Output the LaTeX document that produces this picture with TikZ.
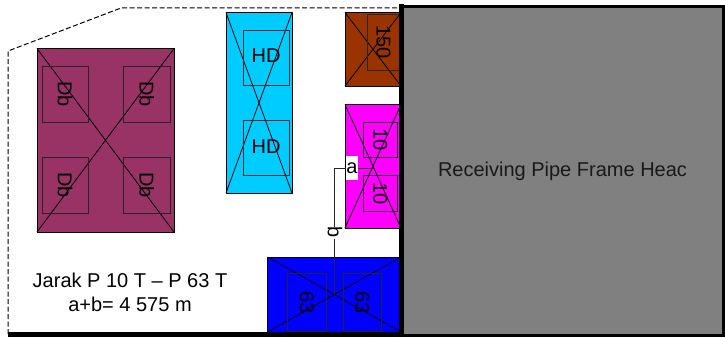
\documentclass[tikz,border=0pt]{standalone}
\usepackage{fontspec}
\setmainfont{Liberation Sans}
\tikzset{
  unit/.style={draw=black,line width=0.9pt,inner sep=0pt,outer sep=0pt},
  inner/.style={draw=black!85,line width=0.8pt,fill=none,inner sep=0pt,outer sep=0pt},
  cross/.style={draw=black,line width=0.8pt},
  rotlab/.style={rotate=-90,font=\fontsize{20}{20}\selectfont,inner sep=0pt},
  hlab/.style={font=\fontsize{20}{20}\selectfont,inner sep=0pt},
  boundary/.style={draw=black,line width=1pt,dash pattern=on 5pt off 2.5pt},
  wall/.style={draw=black,line width=4.5pt},
  dim/.style={draw=black!85,line width=1pt},
}
\newcommand{\boxat}[6]{% name x1 y1 x2 y2 colour
  \fill[#6] (#2,#3) rectangle (#4,#5);
  \draw[unit] (#2,#3) rectangle (#4,#5);
  \coordinate (#1) at ({(#2+#4)/2},{(#3+#5)/2});
  \draw[cross] (#2,#3) -- (#4,#5) (#2,#5) -- (#4,#3);
}
\newcommand{\padat}[6]{% name x1 y1 x2 y2 label style+text
  \draw[inner] (#2,#3) rectangle (#4,#5);
  \node[rotlab] (#1) at ({(#2+#4)/2},{(#3+#5)/2}) {#6};
}
\definecolor{plum}{RGB}{153,51,102}
\definecolor{skyc}{RGB}{0,204,255}
\definecolor{brownc}{RGB}{153,51,0}
\definecolor{magc}{RGB}{255,0,255}
\definecolor{bluec}{RGB}{0,0,255}
\begin{document}
\begin{tikzpicture}[x=1pt,y=-1pt]
\useasboundingbox (0,0) rectangle (725,337);
\fill[white] (0,0) rectangle (725,337);
% site boundary
\coordinate (b1) at (8,334);
\coordinate (b2) at (8,51);
\coordinate (b3) at (121,8);
\coordinate (b4) at (400,8);
\draw[boundary] (b1) -- (b2) -- (b3) -- (b4);
% plum
\boxat{P}{37}{48.5}{174}{232}{plum}
\padat{d1}{42}{66}{88}{122}{Db}
\padat{d2}{123.5}{66}{170}{122}{Db}
\padat{d3}{42}{157}{88}{213}{Db}
\padat{d4}{123.5}{157}{170}{213}{Db}
% cyan
\boxat{C}{226}{12.5}{292}{193}{skyc}
\draw[inner] (243.5,30) rectangle (289,85);
\node[hlab] (h1) at (266,55.5) {HD};
\draw[inner] (243.5,120.5) rectangle (289,175);
\node[hlab] (h2) at (266,146.5) {HD};
% brown
\boxat{B}{345}{12.5}{401}{86}{brownc}
\padat{n150}{367}{14}{400}{70.5}{150}
% magenta
\boxat{M}{345}{104.5}{401}{228}{magc}
\padat{n10a}{363.5}{122}{397}{157}{10}
\padat{n10b}{363.5}{175.5}{397}{211}{10}
% blue
\boxat{L}{267.5}{257}{401}{332}{bluec}
\padat{n63a}{287.5}{273.5}{326}{331}{63}
\padat{n63b}{343}{273.5}{381.5}{331}{63}
% dimension line
\coordinate (corner) at (334.25,168);
\draw[dim] (M |- corner) -- (corner) -- (L);
\node[fill=white,inner sep=0pt,minimum width=12pt,minimum height=24pt,font=\fontsize{20}{20}\selectfont] (a) at (352,168) {a};
\node[fill=white,inner sep=0pt,minimum width=16pt,minimum height=12pt,font=\fontsize{20}{20}\selectfont] (b) at (335,232.5) {\rotatebox{-90}{b}};
% head frame
\fill[fill=black!50] (402,6) rectangle (723,334.5);
\draw[black,line width=3pt] (403,6.5) -- (723.5,6.5) -- (723.5,335.5) -- (403,335.5);
\draw[wall] (401.7,4) -- (401.7,337);
\draw[wall] (8,334.7) -- (403,334.7);
\node[font=\fontsize{20}{20}\selectfont,inner sep=0pt,text=black!90] (head) at (562.5,171.5) {Receiving Pipe Frame Heac};
% note
\node[font=\fontsize{20}{24}\selectfont,align=center,inner sep=0pt] (note) at (130,292.5) {Jarak P 10 T – P 63 T\\a+b= 4 575 m};
\end{tikzpicture}
\end{document}
